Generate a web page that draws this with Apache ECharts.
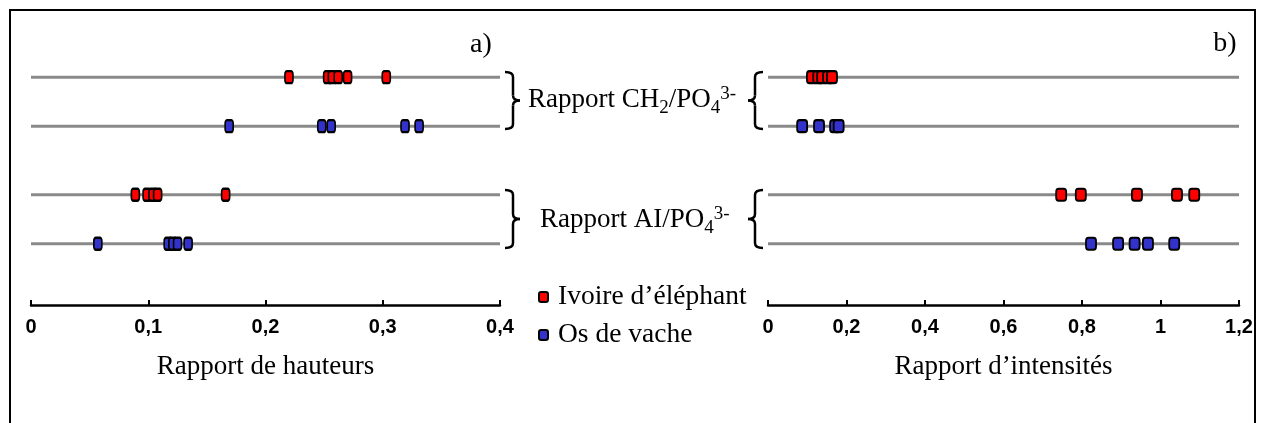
<!DOCTYPE html>
<html>
<head>
<meta charset="utf-8">
<script src="https://cdn.jsdelivr.net/npm/echarts@6/dist/echarts.min.js"></script>
<style>
  html, body { margin: 0; padding: 0; background: #fff; }
  #chart { width: 1261px; height: 423px; }
</style>
</head>
<body>
<div id="chart"></div>
<script>
// rows (vertical level of each line, value units on hidden y axis)
var rowLevels = { ivoireCH2: 4.65, osCH2: 3.65, ivoireAl: 2.25, osAl: 1.25 };

// a) Rapport de hauteurs
var hauteursCH2Ivoire = [0.220, 0.253, 0.257, 0.262, 0.270, 0.303];
var hauteursCH2Os = [0.169, 0.248, 0.256, 0.319, 0.331];
var hauteursAlIvoire = [0.089, 0.099, 0.104, 0.108, 0.166];
var hauteursAlOs = [0.057, 0.117, 0.121, 0.125, 0.134];

// b) Rapport d'intensités
var intensitesCH2Ivoire = [0.112, 0.128, 0.138, 0.153, 0.163];
var intensitesCH2Os = [0.087, 0.130, 0.171, 0.180];
var intensitesAlIvoire = [0.747, 0.797, 0.940, 1.042, 1.086];
var intensitesAlOs = [0.823, 0.892, 0.934, 0.968, 1.035];

var legendNames = ['Ivoire d\u2019éléphant', 'Os de vache'];
var colors = ['#ff0000', '#3333cc'];

var serif = '"Liberation Serif", "Times New Roman", serif';
var sans = '"Liberation Sans", Arial, sans-serif';

function pts(values, level) {
  return values.map(function (v) { return [v, level]; });
}

function guide(idx, xmax, level) {
  return {
    type: 'line', xAxisIndex: idx, yAxisIndex: idx, silent: true,
    symbol: 'none', z: 1,
    lineStyle: { color: '#8a8a8a', width: 3 },
    data: [[0, level], [xmax, level]]
  };
}

function dots(idx, name, color, data, size) {
  return {
    type: 'scatter', name: name, xAxisIndex: idx, yAxisIndex: idx,
    symbol: 'roundRect', symbolSize: size, z: 3,
    itemStyle: { color: color, borderColor: '#000', borderWidth: 2, opacity: 1 },
    data: data
  };
}

function xAxisFor(idx, max, interval, name) {
  return {
    gridIndex: idx, type: 'value', min: 0, max: max, interval: interval,
    name: name, nameLocation: 'middle', nameGap: 48,
    nameTextStyle: { fontFamily: serif, fontSize: 27, color: '#000' },
    axisLine: { show: true, lineStyle: { color: '#000', width: 2.5 } },
    axisTick: { show: true, inside: true, length: 5, lineStyle: { color: '#000', width: 2 } },
    axisLabel: {
      margin: 12, color: '#000', fontFamily: sans, fontWeight: 'bold', fontSize: 20,
      formatter: function (v) { return String(+v.toFixed(2)).replace('.', ','); }
    },
    splitLine: { show: false }
  };
}

// curly brace built from curves and lines; dir 1 => "}", dir -1 => "{"
function brace(x, top, bottom, dir) {
  var mid = (top + bottom) / 2;
  var v = x + dir * 8, tip = x + dir * 15, r = 5;
  var st = { stroke: '#000', lineWidth: 2.5, fill: null };
  function curve(x1, y1, cx, cy, x2, y2) {
    return { type: 'bezierCurve', shape: { x1: x1, y1: y1, cpx1: cx, cpy1: cy, x2: x2, y2: y2 }, style: st };
  }
  function seg(x1, y1, x2, y2) {
    return { type: 'line', shape: { x1: x1, y1: y1, x2: x2, y2: y2 }, style: st };
  }
  return {
    type: 'group',
    children: [
      curve(x, top, v, top, v, top + r),
      seg(v, top + r, v, mid - r),
      curve(v, mid - r, v, mid, tip, mid),
      curve(tip, mid, v, mid, v, mid + r),
      seg(v, mid + r, v, bottom - r),
      curve(v, bottom - r, v, bottom, x, bottom)
    ]
  };
}

var richRatio = {
  m: { fontFamily: serif, fontSize: 27, color: '#000', lineHeight: 36, verticalAlign: 'middle' },
  sub: { fontFamily: serif, fontSize: 19, color: '#000', lineHeight: 36, verticalAlign: 'bottom' },
  sup: { fontFamily: serif, fontSize: 19, color: '#000', lineHeight: 36, verticalAlign: 'top', padding: [3, 0, 0, 0] }
};

var chart = echarts.init(document.getElementById('chart'));
chart.setOption({
  animation: false,
  backgroundColor: '#fff',
  grid: [
    { left: 31, width: 469, top: 60, height: 245 },
    { left: 768, width: 471, top: 60, height: 245 }
  ],
  xAxis: [
    xAxisFor(0, 0.4, 0.1, 'Rapport de hauteurs'),
    xAxisFor(1, 1.2, 0.2, 'Rapport d\u2019intensités')
  ],
  yAxis: [
    { gridIndex: 0, type: 'value', min: 0, max: 5, show: false },
    { gridIndex: 1, type: 'value', min: 0, max: 5, show: false }
  ],
  legend: {
    data: legendNames, orient: 'vertical', left: 533, top: 276, itemGap: 6,
    itemWidth: 9, itemHeight: 10, selectedMode: false,
    textStyle: { fontFamily: serif, fontSize: 27.5, color: '#000', lineHeight: 32, padding: [0, 0, 0, 5] }
  },
  series: [
    guide(0, 0.4, rowLevels.ivoireCH2),
    guide(0, 0.4, rowLevels.osCH2),
    guide(0, 0.4, rowLevels.ivoireAl),
    guide(0, 0.4, rowLevels.osAl),
    guide(1, 1.2, rowLevels.ivoireCH2),
    guide(1, 1.2, rowLevels.osCH2),
    guide(1, 1.2, rowLevels.ivoireAl),
    guide(1, 1.2, rowLevels.osAl),
    dots(0, legendNames[0], colors[0],
      pts(hauteursCH2Ivoire, rowLevels.ivoireCH2).concat(pts(hauteursAlIvoire, rowLevels.ivoireAl)), [8, 12]),
    dots(0, legendNames[1], colors[1],
      pts(hauteursCH2Os, rowLevels.osCH2).concat(pts(hauteursAlOs, rowLevels.osAl)), [8, 12]),
    dots(1, legendNames[0], colors[0],
      pts(intensitesCH2Ivoire, rowLevels.ivoireCH2).concat(pts(intensitesAlIvoire, rowLevels.ivoireAl)), [10, 12]),
    dots(1, legendNames[1], colors[1],
      pts(intensitesCH2Os, rowLevels.osCH2).concat(pts(intensitesAlOs, rowLevels.osAl)), [10, 12])
  ],
  graphic: [
    { type: 'rect', shape: { x: 10, y: 10, width: 1245, height: 430 },
      style: { fill: null, stroke: '#000', lineWidth: 2 } },
    { type: 'text', x: 481, y: 45, style: { text: 'a)', font: '28px ' + serif, fill: '#000', align: 'center', verticalAlign: 'middle' } },
    { type: 'text', x: 1225, y: 44, style: { text: 'b)', font: '28px ' + serif, fill: '#000', align: 'center', verticalAlign: 'middle' } },
    brace(505, 72, 129, 1),
    brace(505, 190, 248, 1),
    brace(763, 72, 129, -1),
    brace(763, 190, 248, -1),
    { type: 'text', x: 528, y: 100,
      style: { text: '{m|Rapport CH}{sub|2}{m|/PO}{sub|4}{sup|3-}', rich: richRatio, verticalAlign: 'middle' } },
    { type: 'text', x: 540, y: 220,
      style: { text: '{m|Rapport AI/PO}{sub|4}{sup|3-}', rich: richRatio, verticalAlign: 'middle' } }
  ]
});
</script>
</body>
</html>
